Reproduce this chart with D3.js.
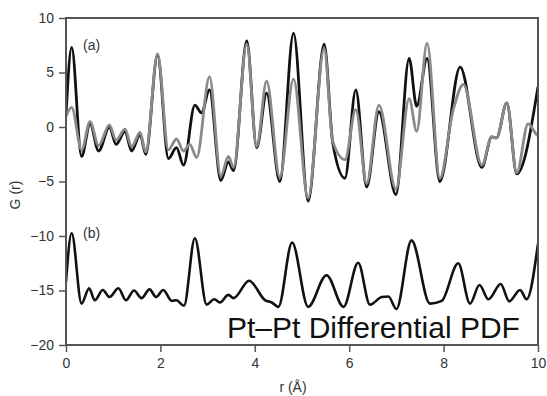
<!DOCTYPE html>
<html>
<head>
<meta charset="utf-8">
<script src="https://cdn.jsdelivr.net/npm/d3@7"></script>
<style>
  body { margin: 0; background: #fff; }
  svg { display: block; font-family: "Liberation Sans", Arial, sans-serif; }
</style>
</head>
<body>
<div class="chart"></div>
<script>
// (a) black curve - extrema
const rBlackA = [0, 0.12, 0.33, 0.51, 0.69, 0.92, 1.06, 1.25, 1.39, 1.57, 1.69, 1.94, 2.17, 2.34, 2.49, 2.73, 2.87, 3.04, 3.28, 3.44, 3.55, 3.83, 4.04, 4.25, 4.53, 4.82, 5.13, 5.47, 5.65, 5.91, 6.14, 6.37, 6.63, 6.99, 7.27, 7.43, 7.65, 7.92, 8.35, 8.81, 9.02, 9.12, 9.34, 9.55, 10];
const gBlackA = [1.1, 7.3, -2.7, 0.3, -2.2, 0.0, -1.6, -0.4, -2.2, -0.7, -2.5, 6.6, -2.9, -1.9, -3.5, 2.0, 1.3, 3.4, -4.9, -3.2, -4.0, 7.9, -1.9, 3.1, -5.0, 8.6, -6.8, 7.6, -1.4, -4.7, 3.4, -5.5, 1.4, -6.2, 6.3, 1.9, 6.3, -5.0, 5.5, -3.7, -0.9, -1.0, 2.2, -4.3, 3.7];

// (a) grey curve
const rGrayA = [0, 0.12, 0.33, 0.51, 0.69, 0.92, 1.06, 1.25, 1.39, 1.57, 1.69, 1.94, 2.17, 2.34, 2.49, 2.62, 2.77, 3.04, 3.28, 3.44, 3.55, 3.83, 4.04, 4.25, 4.53, 4.82, 5.13, 5.47, 5.65, 5.91, 6.14, 6.37, 6.63, 6.99, 7.27, 7.43, 7.65, 7.92, 8.2, 8.42, 8.81, 9.02, 9.12, 9.34, 9.55, 9.79, 9.97, 10];
const gGrayA = [1.0, 1.8, -2.1, 0.5, -1.7, 0.2, -1.2, -0.2, -1.8, -0.5, -2.3, 6.7, -2.1, -1.1, -2.2, -1.6, -2.8, 4.6, -4.5, -2.7, -3.7, 7.6, -1.8, 4.2, -4.6, 4.4, -6.5, 7.2, -1.3, -3.0, 1.6, -5.2, 2.0, -5.7, 2.6, -0.4, 7.7, -4.7, 1.5, 3.9, -3.5, -0.9, -1.0, 2.2, -4.2, 0.3, -0.7, -0.8];

// (b) Pt-Pt differential PDF
const rB = [0, 0.12, 0.33, 0.49, 0.61, 0.78, 0.92, 1.11, 1.27, 1.44, 1.6, 1.77, 1.91, 2.06, 2.24, 2.34, 2.5, 2.73, 2.98, 3.14, 3.26, 3.44, 3.55, 3.88, 4.22, 4.36, 4.5, 4.79, 5.13, 5.52, 5.88, 6.19, 6.44, 6.69, 6.83, 7.0, 7.32, 7.71, 7.96, 8.31, 8.56, 8.76, 8.95, 9.21, 9.39, 9.62, 9.76, 10];
const gB = [-14.2, -9.75, -16.2, -14.8, -15.9, -14.95, -15.6, -14.8, -15.9, -15.0, -15.7, -14.9, -15.6, -14.95, -15.95, -15.9, -16.4, -10.2, -16.3, -15.8, -16.1, -15.4, -15.7, -14.1, -15.9, -16.1, -16.5, -10.6, -16.5, -13.6, -16.5, -12.45, -16.3, -15.6, -15.55, -16.7, -10.4, -16.2, -15.95, -12.5, -16.2, -14.5, -15.8, -14.4, -16.0, -14.95, -15.8, -10.7];

const xTicks = [0, 2, 4, 6, 8, 10];
const yTicks = [-20, -15, -10, -5, 0, 5, 10];

const width = 547, height = 396;
const margin = {top: 18, right: 9, bottom: 51, left: 66};

const svg = d3.select(".chart").append("svg")
  .attr("width", width)
  .attr("height", height);

const x = d3.scaleLinear().domain([0, 10]).range([margin.left, width - margin.right]);
const y = d3.scaleLinear().domain([-20, 10]).range([height - margin.bottom, margin.top]);

svg.append("clipPath").attr("id", "clip")
  .append("rect")
    .attr("x", margin.left).attr("y", margin.top)
    .attr("width", x(10) - x(0)).attr("height", y(-20) - y(10));

const line = d3.line()
  .x(d => x(d[0]))
  .y(d => y(d[1]))
  .curve(d3.curveMonotoneX);

const plot = svg.append("g").attr("clip-path", "url(#clip)");

plot.append("path")
  .attr("d", line(d3.zip(rBlackA, gBlackA)))
  .attr("fill", "none").attr("stroke", "#111").attr("stroke-width", 2.8);

plot.append("path")
  .attr("d", line(d3.zip(rGrayA, gGrayA)))
  .attr("fill", "none").attr("stroke", "#8a8a8a").attr("stroke-width", 2.8);

plot.append("path")
  .attr("d", line(d3.zip(rB, gB)))
  .attr("fill", "none").attr("stroke", "#111").attr("stroke-width", 2.6);

// frame
svg.append("rect")
  .attr("x", x(0)).attr("y", y(10))
  .attr("width", x(10) - x(0)).attr("height", y(-20) - y(10))
  .attr("fill", "none").attr("stroke", "#555").attr("stroke-width", 2);

const xAxis = svg.append("g")
  .attr("transform", "translate(0," + y(-20) + ")")
  .call(d3.axisBottom(x).tickValues(xTicks).tickSize(7).tickSizeOuter(0).tickPadding(6));

const yAxis = svg.append("g")
  .attr("transform", "translate(" + x(0) + ",0)")
  .call(d3.axisLeft(y).tickValues(yTicks).tickSize(7).tickSizeOuter(0).tickPadding(5));

[xAxis, yAxis].forEach(g => {
  g.select(".domain").remove();
  g.selectAll("line").attr("stroke", "#555").attr("stroke-width", 1.5);
  g.selectAll("text")
    .attr("fill", "#333")
    .style("font-size", "14px")
    .style("font-family", "Liberation Sans, Arial, sans-serif");
});

// axis titles
svg.append("text")
  .attr("x", 293).attr("y", 392)
  .attr("text-anchor", "middle")
  .attr("fill", "#333").style("font-size", "14px")
  .text("r (Å)");

svg.append("text")
  .attr("transform", "translate(20,195) rotate(-90)")
  .attr("text-anchor", "middle")
  .attr("fill", "#333").style("font-size", "14px")
  .text("G (r)");

// panel labels
svg.append("text")
  .attr("x", 83).attr("y", 50)
  .attr("fill", "#333").style("font-size", "14px")
  .text("(a)");

svg.append("text")
  .attr("x", 83).attr("y", 238)
  .attr("fill", "#333").style("font-size", "14px")
  .text("(b)");

svg.append("text")
  .attr("x", 227).attr("y", 338)
  .attr("fill", "#111").style("font-size", "30px")
  .text("Pt–Pt Differential PDF");
</script>
</body>
</html>
